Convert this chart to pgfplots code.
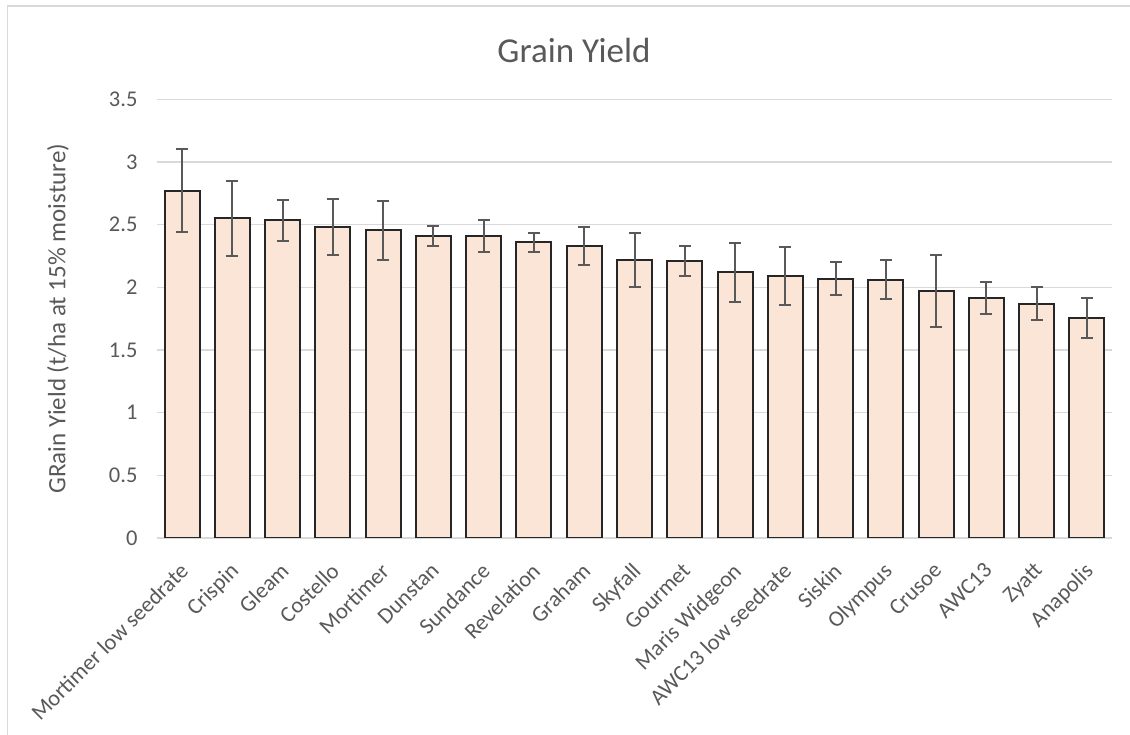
\documentclass[border=0pt]{standalone}
\usepackage{fontspec}
\setmainfont{Carlito}
\usepackage{pgfplots}
\pgfplotsset{compat=1.18}
\definecolor{txt}{HTML}{595959}
\definecolor{gridgray}{HTML}{D9D9D9}
\definecolor{barfill}{HTML}{FBE5D6}
\definecolor{barline}{HTML}{262626}
\begin{document}
\begin{tikzpicture}[x=1pt,y=1pt]
\path[use as bounding box] (0,0) rectangle (1130,735);
\draw[gridgray, line width=1.5pt] (7.5,0) -- (7.5,729) -- (1130,729);
\node[txt, font=\fontsize{35}{35}\selectfont] at (574,685) {Grain Yield};
\begin{axis}[
    at={(157pt,197pt)}, anchor=south west,
    width=955pt, height=438.7pt, scale only axis,
    xmin=-0.5, xmax=18.5, ymin=0, ymax=3.5,
    ytick={0,0.5,...,3.5},
    xtick={0,...,18},
    xticklabels={Mortimer low seedrate, Crispin, Gleam, Costello, Mortimer,
      Dunstan, Sundance, Revelation, Graham, Skyfall, Gourmet, Maris Widgeon,
      AWC13 low seedrate, Siskin, Olympus, Crusoe, AWC13, Zyatt, Anapolis},
    axis line style={draw=none},
    major tick length=0pt,
    ymajorgrids, grid style={gridgray, line width=1.3pt},
    /pgf/number format/assume math mode=true,
    yticklabel style={txt, font=\fontsize{22.5}{22.5}\selectfont, xshift=-16pt},
    xticklabel style={txt, font=\fontsize{22.5}{22.5}\selectfont, inner sep=0pt,
      rotate=45, anchor=north east, xshift=-19pt, yshift=-14pt},
    ylabel={GRain Yield (t/ha at 15\% moisture)},
    every axis y label/.style={at={(axis description cs:0,0.5)}, xshift=-99pt,
      rotate=90, anchor=center, txt, font=\fontsize{25}{25}\selectfont},
    ybar, bar width=35pt,
  ]
  \addplot[fill=barfill, draw=barline, line width=2pt,
    error bars/.cd, y dir=both, y explicit,
    error bar style={line width=2pt, txt},
    error mark options={rotate=90, mark size=6pt, line width=2pt, txt}]
    table[x=x, y=y, y error=e] {
      x  y     e
      0  2.77  0.33
      1  2.55  0.30
      2  2.535 0.165
      3  2.48  0.225
      4  2.455 0.235
      5  2.41  0.08
      6  2.41  0.13
      7  2.36  0.077
      8  2.33  0.155
      9  2.215 0.215
      10 2.21  0.12
      11 2.12  0.235
      12 2.09  0.235
      13 2.07  0.128
      14 2.06  0.154
      15 1.97  0.285
      16 1.915 0.13
      17 1.87  0.13
      18 1.755 0.163
    };
\end{axis}
\end{tikzpicture}
\end{document}
